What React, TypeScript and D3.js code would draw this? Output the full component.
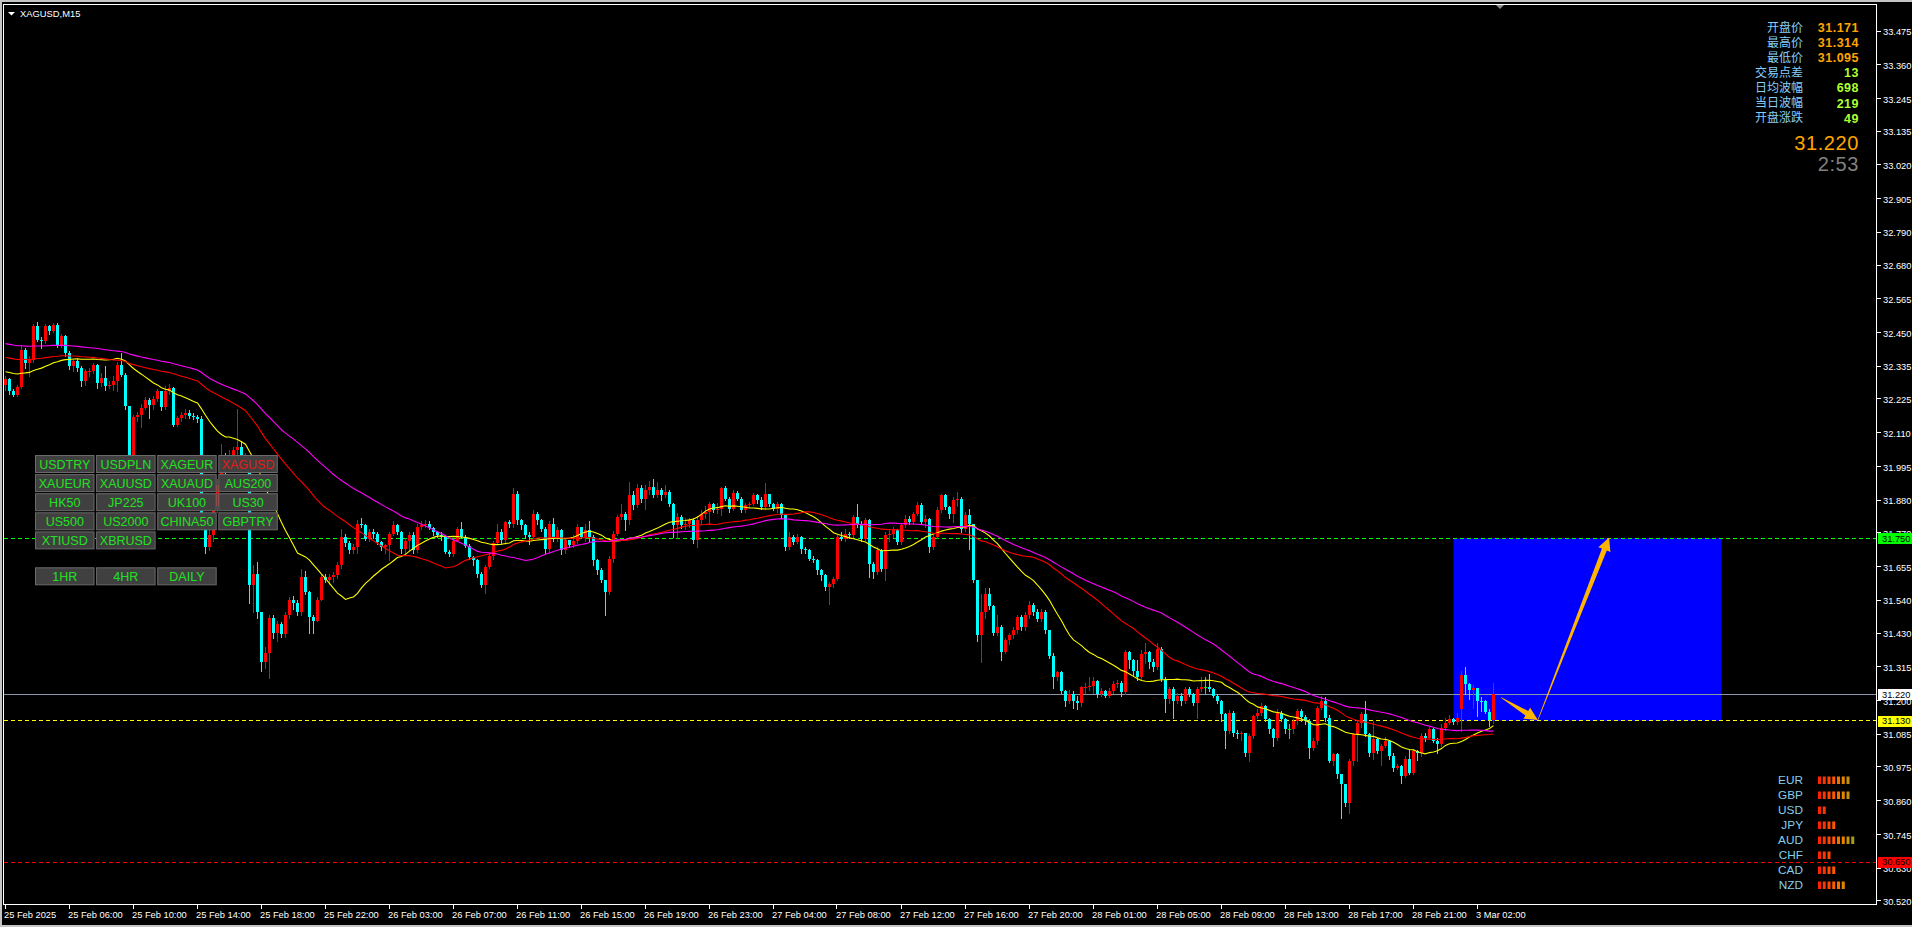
import React from 'react';
import * as d3 from 'd3';

// ---------------- DATA ----------------
const chartTitle = 'XAGUSD,M15';
const firstOpen = 32.27;
const sessionOpens: [number, number][] = [[364, 31.171]];

const closes = [
  32.290,32.250,32.238,32.265,32.390,32.345,32.357,32.470,32.425,32.419,
  32.470,32.453,32.476,32.408,32.436,32.379,32.334,32.351,32.328,32.283,
  32.317,32.320,32.340,32.277,32.294,32.266,32.272,32.286,32.340,32.306,
  32.198,32.030,32.163,32.170,32.192,32.220,32.203,32.222,32.249,32.195,
  32.250,32.262,32.135,32.160,32.170,32.175,32.165,32.162,32.155,31.800,
  31.720,31.760,31.860,31.930,32.020,31.990,32.030,32.050,32.060,32.000,
  32.020,31.590,31.630,31.499,31.330,31.360,31.480,31.430,31.460,31.425,
  31.490,31.540,31.530,31.500,31.620,31.567,31.482,31.470,31.540,31.618,
  31.608,31.620,31.625,31.658,31.755,31.733,31.710,31.720,31.800,31.795,
  31.749,31.770,31.765,31.738,31.720,31.726,31.765,31.794,31.770,31.715,
  31.740,31.760,31.710,31.787,31.795,31.800,31.785,31.770,31.760,31.755,
  31.705,31.698,31.740,31.783,31.755,31.725,31.686,31.675,31.630,31.590,
  31.652,31.690,31.735,31.773,31.743,31.806,31.800,31.902,31.812,31.795,
  31.760,31.755,31.834,31.812,31.783,31.715,31.800,31.749,31.777,31.709,
  31.743,31.727,31.740,31.789,31.755,31.777,31.755,31.675,31.641,31.607,
  31.567,31.681,31.766,31.823,31.834,31.812,31.897,31.863,31.920,31.885,
  31.914,31.925,31.897,31.914,31.897,31.908,31.868,31.795,31.823,31.795,
  31.800,31.812,31.743,31.812,31.834,31.840,31.868,31.846,31.851,31.920,
  31.885,31.851,31.903,31.885,31.846,31.863,31.868,31.897,31.880,31.857,
  31.902,31.868,31.851,31.868,31.829,31.721,31.755,31.737,31.755,31.715,
  31.709,31.681,31.675,31.641,31.624,31.584,31.595,31.613,31.755,31.749,
  31.766,31.760,31.823,31.800,31.749,31.811,31.664,31.635,31.709,31.647,
  31.760,31.766,31.777,31.738,31.795,31.817,31.806,31.834,31.863,31.806,
  31.817,31.721,31.755,31.846,31.897,31.857,31.834,31.880,31.882,31.783,
  31.829,31.800,31.607,31.420,31.500,31.560,31.520,31.428,31.448,31.363,
  31.403,31.420,31.437,31.482,31.448,31.488,31.522,31.499,31.477,31.500,
  31.437,31.351,31.278,31.295,31.232,31.198,31.221,31.198,31.190,31.244,
  31.246,31.250,31.266,31.221,31.232,31.215,31.232,31.255,31.260,31.227,
  31.363,31.335,31.300,31.278,31.357,31.363,31.330,31.312,31.374,31.272,
  31.204,31.238,31.198,31.216,31.198,31.238,31.221,31.192,31.238,31.244,
  31.244,31.238,31.216,31.198,31.153,31.096,31.158,31.090,31.085,31.090,
  31.022,31.079,31.147,31.158,31.181,31.136,31.101,31.073,31.158,31.136,
  31.101,31.101,31.130,31.165,31.142,31.130,31.039,31.062,31.175,31.198,
  31.140,30.994,31.016,30.948,30.915,30.852,30.994,31.085,31.124,31.153,
  31.085,31.022,31.068,31.028,31.045,31.062,31.010,30.971,30.977,30.943,
  31.000,30.953,31.028,31.020,31.079,31.073,31.102,31.062,31.050,31.107,
  31.124,31.135,31.126,31.140,31.285,31.254,31.234,31.243,31.198,31.196,
  31.161,31.132,31.220,
];

const highs = [
  32.300,32.295,32.258,32.270,32.405,32.398,32.370,32.478,32.485,32.435,
  32.478,32.475,32.480,32.480,32.445,32.440,32.385,32.360,32.360,32.335,
  32.325,32.330,32.345,32.342,32.310,32.334,32.285,32.300,32.350,32.379,
  32.310,32.200,32.170,32.180,32.205,32.230,32.228,32.232,32.258,32.252,
  32.268,32.275,32.265,32.165,32.180,32.190,32.185,32.175,32.168,32.165,
  31.810,31.780,31.870,31.950,32.070,32.040,32.050,32.060,32.190,32.080,
  32.040,32.030,31.660,31.670,31.500,31.380,31.490,31.490,31.470,31.465,
  31.500,31.550,31.555,31.540,31.645,31.640,31.570,31.490,31.550,31.630,
  31.630,31.630,31.635,31.670,31.783,31.765,31.740,31.730,31.812,31.820,
  31.800,31.780,31.780,31.770,31.740,31.730,31.770,31.810,31.800,31.775,
  31.750,31.770,31.770,31.800,31.810,31.812,31.810,31.790,31.775,31.770,
  31.760,31.710,31.745,31.790,31.806,31.760,31.730,31.690,31.680,31.635,
  31.660,31.700,31.740,31.800,31.780,31.810,31.812,31.920,31.910,31.815,
  31.800,31.770,31.846,31.840,31.815,31.790,31.810,31.820,31.790,31.780,
  31.750,31.745,31.760,31.800,31.790,31.800,31.810,31.760,31.680,31.650,
  31.610,31.690,31.775,31.830,31.865,31.840,31.942,31.910,31.935,31.930,
  31.930,31.945,31.950,31.940,31.920,31.930,31.915,31.870,31.835,31.830,
  31.820,31.820,31.820,31.825,31.845,31.860,31.875,31.870,31.870,31.925,
  31.928,31.890,31.914,31.912,31.890,31.870,31.875,31.905,31.900,31.890,
  31.937,31.900,31.870,31.875,31.870,31.830,31.770,31.760,31.765,31.757,
  31.720,31.712,31.690,31.680,31.645,31.630,31.600,31.620,31.760,31.770,
  31.780,31.770,31.830,31.868,31.810,31.820,31.815,31.670,31.720,31.715,
  31.770,31.780,31.790,31.780,31.800,31.830,31.825,31.840,31.875,31.870,
  31.830,31.820,31.760,31.855,31.900,31.900,31.860,31.890,31.908,31.890,
  31.840,31.850,31.800,31.610,31.560,31.580,31.580,31.525,31.488,31.455,
  31.410,31.430,31.450,31.490,31.490,31.500,31.538,31.530,31.510,31.510,
  31.505,31.440,31.360,31.300,31.300,31.235,31.235,31.230,31.215,31.250,
  31.260,31.280,31.280,31.270,31.240,31.235,31.240,31.266,31.270,31.265,
  31.370,31.366,31.340,31.335,31.370,31.393,31.366,31.340,31.395,31.380,
  31.280,31.245,31.245,31.225,31.225,31.245,31.245,31.225,31.245,31.280,
  31.280,31.290,31.240,31.220,31.200,31.155,31.166,31.165,31.100,31.095,
  31.090,31.085,31.150,31.170,31.190,31.185,31.140,31.105,31.170,31.165,
  31.140,31.120,31.135,31.170,31.170,31.150,31.135,31.070,31.180,31.214,
  31.210,31.150,31.020,31.020,30.950,30.910,31.000,31.090,31.130,31.160,
  31.198,31.090,31.130,31.070,31.050,31.075,31.065,31.020,30.985,30.980,
  31.010,31.035,31.035,31.030,31.090,31.090,31.110,31.105,31.070,31.120,
  31.140,31.150,31.140,31.155,31.300,31.314,31.260,31.252,31.243,31.210,
  31.200,31.170,31.260,
];

const lows = [
  32.255,32.240,32.232,32.235,32.262,32.330,32.300,32.350,32.420,32.395,
  32.415,32.445,32.450,32.400,32.400,32.370,32.325,32.318,32.318,32.268,
  32.270,32.300,32.310,32.262,32.268,32.255,32.262,32.255,32.249,32.300,
  32.190,32.000,32.020,32.150,32.129,32.190,32.160,32.190,32.215,32.185,
  32.190,32.240,32.130,32.130,32.150,32.160,32.160,32.155,32.145,31.780,
  31.700,31.710,31.740,31.840,31.920,31.960,31.980,32.010,32.030,31.990,
  31.980,31.530,31.500,31.480,31.300,31.310,31.277,31.410,31.400,31.415,
  31.415,31.480,31.510,31.490,31.490,31.560,31.430,31.430,31.470,31.560,
  31.600,31.595,31.600,31.615,31.650,31.725,31.700,31.700,31.700,31.790,
  31.745,31.740,31.750,31.730,31.710,31.700,31.675,31.760,31.765,31.700,
  31.700,31.710,31.700,31.705,31.780,31.790,31.780,31.760,31.755,31.745,
  31.700,31.690,31.690,31.740,31.750,31.720,31.680,31.660,31.620,31.585,
  31.565,31.650,31.680,31.730,31.730,31.730,31.790,31.790,31.800,31.780,
  31.750,31.730,31.750,31.800,31.775,31.700,31.705,31.740,31.740,31.698,
  31.700,31.720,31.720,31.735,31.750,31.740,31.740,31.660,31.630,31.600,
  31.488,31.560,31.670,31.760,31.815,31.777,31.800,31.850,31.855,31.875,
  31.850,31.900,31.890,31.890,31.880,31.890,31.860,31.755,31.750,31.785,
  31.780,31.790,31.735,31.722,31.800,31.820,31.800,31.840,31.835,31.830,
  31.880,31.840,31.845,31.880,31.840,31.840,31.855,31.862,31.870,31.850,
  31.850,31.860,31.845,31.840,31.820,31.710,31.715,31.730,31.735,31.700,
  31.700,31.675,31.670,31.630,31.610,31.575,31.527,31.585,31.610,31.745,
  31.740,31.750,31.755,31.790,31.740,31.745,31.618,31.615,31.630,31.640,
  31.607,31.740,31.755,31.730,31.730,31.790,31.800,31.800,31.830,31.800,
  31.790,31.705,31.715,31.750,31.840,31.850,31.820,31.805,31.860,31.770,
  31.775,31.715,31.600,31.400,31.330,31.480,31.510,31.420,31.420,31.335,
  31.360,31.390,31.410,31.430,31.440,31.440,31.480,31.490,31.470,31.470,
  31.430,31.345,31.240,31.270,31.225,31.180,31.190,31.175,31.170,31.180,
  31.225,31.235,31.225,31.210,31.215,31.210,31.210,31.225,31.245,31.215,
  31.220,31.310,31.285,31.270,31.270,31.325,31.310,31.300,31.305,31.265,
  31.160,31.190,31.140,31.190,31.185,31.190,31.215,31.185,31.140,31.230,
  31.225,31.230,31.210,31.190,31.130,31.039,31.090,31.080,31.070,31.065,
  31.010,30.994,31.070,31.140,31.150,31.130,31.090,31.045,31.065,31.130,
  31.090,31.073,31.090,31.120,31.130,31.120,31.005,31.030,31.050,31.170,
  31.130,30.990,30.980,30.937,30.800,30.840,30.818,30.980,30.994,31.110,
  31.080,31.010,31.000,31.020,30.980,31.040,31.000,30.960,30.965,30.920,
  30.940,30.950,30.950,30.998,31.010,31.060,31.070,31.058,31.022,31.045,
  31.100,31.120,31.120,31.120,31.095,31.220,31.203,31.175,31.146,31.164,
  31.158,31.112,31.124,
];

const timeLabels = [
  '25 Feb 2025','25 Feb 06:00','25 Feb 10:00','25 Feb 14:00','25 Feb 18:00','25 Feb 22:00',
  '26 Feb 03:00','26 Feb 07:00','26 Feb 11:00','26 Feb 15:00','26 Feb 19:00','26 Feb 23:00',
  '27 Feb 04:00','27 Feb 08:00','27 Feb 12:00','27 Feb 16:00','27 Feb 20:00','28 Feb 01:00',
  '28 Feb 05:00','28 Feb 09:00','28 Feb 13:00','28 Feb 17:00','28 Feb 21:00','3 Mar 02:00',
];
const barsPerTimeLabel = 16;

const priceTicks = [
  33.475,33.360,33.245,33.135,33.020,32.905,32.790,32.680,32.565,32.450,32.335,32.225,32.110,
  31.995,31.880,31.770,31.655,31.540,31.430,31.315,31.200,31.085,30.975,30.860,30.745,30.630,30.520,
];

// moving averages: period and value before the first visible bar
const maPeriods = [25, 50, 70];
const maSeeds = [32.317, 32.366, 32.413];

// horizontal levels
const greenLevel = 31.750;
const yellowLevel = 31.130;
const redLevel = 30.650;
const bidPrice = 31.220;

// target zone (bar index range / price range) and arrows (bar, price)
const zoneBars = [362, 429];
const zonePrices = [31.750, 31.130];
const arrowPoints: [number, number][] = [[373.9, 31.209], [383.1, 31.133], [400.9, 31.753]];

// info panel
const infoLabels = ['开盘价', '最高价', '最低价', '交易点差', '日均波幅', '当日波幅', '开盘涨跌'];
const infoValues = ['31.171', '31.314', '31.095', '13', '698', '219', '49'];
const bidText = '31.220';
const countdownText = '2:53';

// currency strength
const currencies = ['EUR', 'GBP', 'USD', 'JPY', 'AUD', 'CHF', 'CAD', 'NZD'];
const strengths = [7, 7, 2, 4, 8, 3, 4, 6];

// symbol buttons
const buttonRows = [
  ['USDTRY', 'USDPLN', 'XAGEUR', 'XAGUSD'],
  ['XAUEUR', 'XAUUSD', 'XAUAUD', 'AUS200'],
  ['HK50', 'JP225', 'UK100', 'US30'],
  ['US500', 'US2000', 'CHINA50', 'GBPTRY'],
  ['XTIUSD', 'XBRUSD'],
];
const timeframeButtons = ['1HR', '4HR', 'DAILY'];
const activeSymbol = 'XAGUSD';

// ---------------- CHART ----------------
const W = 1912;
const H = 927;
const FONT = '"Liberation Sans", Arial, sans-serif';

export default function App() {
  const n = closes.length;
  const x = d3.scaleLinear().domain([0, n - 1]).range([5.5, 5.5 + 4 * (n - 1)]);
  const y = d3.scaleLinear().domain([33.475, 30.52]).range([30.5, 900.4]);

  const openMap = new Map(sessionOpens);
  const bars = closes.map((c, i) => {
    const o = openMap.has(i) ? (openMap.get(i) as number) : i === 0 ? firstOpen : closes[i - 1];
    const h = Math.max(highs[i], o, c);
    const l = Math.min(lows[i], o, c);
    return { i, o, h, l, c };
  });

  const mas = maPeriods.map((p, k) =>
    closes.map((_, i) => {
      let s = 0;
      for (let j = i - p + 1; j <= i; j++) s += j < 0 ? maSeeds[k] : closes[j];
      return s / p;
    })
  );
  const maColors = ['#FFFF00', '#FF0000', '#FF00FF'];
  const line = d3.line<number>().x((_, i) => x(i)).y((d) => y(d));

  const frameL = 3.5, frameT = 4.5, frameR = 1876.5, frameB = 904.5;

  const arrowPoly = (a: [number, number], b: [number, number]) => {
    const x1 = x(a[0]), y1 = y(a[1]), x2 = x(b[0]), y2 = y(b[1]);
    const dx = x2 - x1, dy = y2 - y1;
    const len = Math.hypot(dx, dy);
    const ux = dx / len, uy = dy / len;
    const nx = -uy, ny = ux;
    const headLen = 13, headW = 6.5, shaftW = 2.6, tailW = 0.3;
    const bx = x2 - ux * headLen, by = y2 - uy * headLen;
    const pts = [
      [x1 + nx * tailW, y1 + ny * tailW],
      [bx + nx * shaftW, by + ny * shaftW],
      [bx + nx * headW, by + ny * headW],
      [x2, y2],
      [bx - nx * headW, by - ny * headW],
      [bx - nx * shaftW, by - ny * shaftW],
      [x1 - nx * tailW, y1 - ny * tailW],
    ];
    return pts.map((p) => p.join(',')).join(' ');
  };

  const levelLabel = (p: number, fill: string) => (
    <g key={'lab' + p}>
      <rect x={1878} y={Math.round(y(p)) - 5} width={34} height={11} fill={fill} />
      <text x={1882} y={y(p)} dy="0.36em" fontSize={9.3} fontFamily={FONT} fill="#000">
        {p.toFixed(3)}
      </text>
    </g>
  );

  const strengthColor = d3.scaleLinear<string>().domain([0, 3, 5, 7]).range(['#ff2200', '#ff5a00', '#e88400', '#a0a010']);

  return (
    <svg width={W} height={H} style={{ position: 'absolute', left: 0, top: 0, display: 'block' }}>
      <rect x={0} y={0} width={W} height={H} fill="#c4c4c4" />
      <rect x={2} y={2} width={W - 2} height={H - 4} fill="#000" />

      {/* target zone */}
      <rect
        x={x(zoneBars[0])}
        y={y(zonePrices[0])}
        width={x(zoneBars[1]) - x(zoneBars[0])}
        height={y(zonePrices[1]) - y(zonePrices[0])}
        fill="#0000FF"
      />

      {/* level lines */}
      <line x1={frameL} x2={frameR} y1={y(greenLevel)} y2={y(greenLevel)} stroke="#00FF00" strokeDasharray="4,3" shapeRendering="crispEdges" />
      <line x1={frameL} x2={frameR} y1={y(yellowLevel)} y2={y(yellowLevel)} stroke="#FFFF00" strokeDasharray="4,3" shapeRendering="crispEdges" />
      <line x1={frameL} x2={frameR} y1={y(redLevel)} y2={y(redLevel)} stroke="#FF0000" strokeDasharray="4,3" shapeRendering="crispEdges" />
      <line x1={frameL} x2={frameR} y1={y(bidPrice)} y2={y(bidPrice)} stroke="#8796a8" shapeRendering="crispEdges" />

      {/* candles */}
      <g shapeRendering="crispEdges">
        {bars.map((b) => {
          const cx = x(b.i);
          const doji = Math.abs(b.c - b.o) < 0.0005;
          const col = doji ? '#00FF00' : b.c > b.o ? '#FF0000' : '#00FFFF';
          const yh = Math.round(y(b.h));
          const yl = Math.round(y(b.l));
          const yt = Math.round(y(Math.max(b.o, b.c)));
          const yb = Math.round(y(Math.min(b.o, b.c)));
          return (
            <g key={b.i}>
              <rect x={cx - 0.5} y={yh} width={1} height={Math.max(1, yl - yh + 1)} fill={col} />
              <rect x={cx - 1.5} y={yt} width={3} height={Math.max(1, yb - yt)} fill={col} />
            </g>
          );
        })}
      </g>

      {/* moving averages */}
      {mas.map((m, k) => (
        <path key={'ma' + k} d={line(m) || ''} fill="none" stroke={maColors[k]} strokeWidth={1.1} />
      ))}

      {/* arrows */}
      <polygon points={arrowPoly(arrowPoints[0], arrowPoints[1])} fill="#FFB400" />
      <polygon points={arrowPoly(arrowPoints[1], arrowPoints[2])} fill="#FFB400" />

      {/* frame */}
      <rect x={frameL} y={frameT} width={frameR - frameL} height={frameB - frameT} fill="none" stroke="#FFFFFF" shapeRendering="crispEdges" />
      <polygon points="1496,5 1504,5 1500,9" fill="#8a8a8a" />

      {/* title */}
      <polygon points="8,12 15,12 11.5,15.5" fill="#FFFFFF" />
      <text x={20} y={16.5} fontSize={9.4} fontFamily={FONT} fill="#FFFFFF">{chartTitle}</text>

      {/* price axis */}
      <g fontFamily={FONT} fontSize={9.3} fill="#FFFFFF">
        {priceTicks.map((p) => (
          <g key={'pt' + p}>
            <line x1={frameR} x2={frameR + 4} y1={Math.round(y(p)) + 0.5} y2={Math.round(y(p)) + 0.5} stroke="#FFFFFF" shapeRendering="crispEdges" />
            <text x={1883} y={y(p) + 1} dy="0.36em">{p.toFixed(3)}</text>
          </g>
        ))}
      </g>
      {levelLabel(greenLevel, '#00FF00')}
      {levelLabel(bidPrice, '#FFFFFF')}
      {levelLabel(yellowLevel, '#FFFF00')}
      {levelLabel(redLevel, '#FF0000')}

      {/* time axis */}
      <g fontFamily={FONT} fontSize={9.3} fill="#FFFFFF">
        {timeLabels.map((t, k) => {
          const xi = x(k * barsPerTimeLabel);
          return (
            <g key={'tl' + k}>
              <line x1={Math.round(xi) - 0.5} x2={Math.round(xi) - 0.5} y1={frameB} y2={frameB + 4} stroke="#FFFFFF" shapeRendering="crispEdges" />
              <text x={xi - 1.5} y={918}>{t}</text>
            </g>
          );
        })}
      </g>
      <rect x={0} y={H - 2} width={W} height={2} fill="#c4c4c4" />

      {/* info panel */}
      <g fontFamily='"Noto Sans CJK SC", sans-serif' fontSize={12}>
        {infoLabels.map((t, k) => (
          <text key={'il' + k} x={1803} y={27.5 + 15.1 * k} dy="0.35em" textAnchor="end" fill="#87CEFA">{t}</text>
        ))}
      </g>
      <g fontFamily={FONT} fontSize={12.5} fontWeight="bold">
        {infoValues.map((t, k) => (
          <text key={'iv' + k} x={1859} y={27.5 + 15.1 * k} dy="0.36em" textAnchor="end" fill={k < 3 ? '#FFA500' : '#ADFF2F'} letterSpacing={0.5}>{t}</text>
        ))}
      </g>
      <text x={1859} y={143} dy="0.36em" textAnchor="end" fontFamily={FONT} fontSize={20} fill="#FFA500" letterSpacing={0.6}>{bidText}</text>
      <text x={1859} y={163.5} dy="0.36em" textAnchor="end" fontFamily={FONT} fontSize={20} fill="#808080" letterSpacing={0.6}>{countdownText}</text>

      {/* currency strength */}
      {currencies.map((c, k) => {
        const cy = 780 + 15 * k;
        return (
          <g key={'cs' + c}>
            <text x={1803} y={cy} dy="0.36em" textAnchor="end" fontFamily={FONT} fontSize={11.8} fill="#87CEEB">{c}</text>
            {d3.range(strengths[k]).map((j) => (
              <rect key={j} x={1818 + j * 4.75} y={cy - 3.5} width={3} height={7.5} fill={strengthColor(j)} />
            ))}
          </g>
        );
      })}

      {/* buttons */}
      <g fontFamily={FONT} fontSize={12.5}>
        {buttonRows.map((row, r) =>
          row.map((s, c) => {
            const bx = 35 + c * 61.1;
            const by = 455 + r * 19.1;
            return (
              <g key={s}>
                <rect x={bx + 0.5} y={by + 0.5} width={58.5} height={17} fill="#404040" stroke="#6a6a6a" />
                <text x={bx + 29.75} y={by + 9} dy="0.36em" textAnchor="middle" fill={s === activeSymbol ? '#E81818' : '#22E022'}>{s}</text>
              </g>
            );
          })
        )}
        {timeframeButtons.map((s, c) => {
          const bx = 35 + c * 61.1;
          const by = 567.3;
          return (
            <g key={s}>
              <rect x={bx + 0.5} y={by + 0.5} width={58.5} height={17} fill="#404040" stroke="#6a6a6a" />
              <text x={bx + 29.75} y={by + 9} dy="0.36em" textAnchor="middle" fill="#22E022">{s}</text>
            </g>
          );
        })}
      </g>
    </svg>
  );
}
